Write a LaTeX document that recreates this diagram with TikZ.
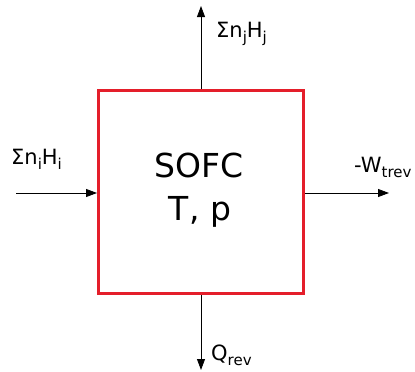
\documentclass[tikz,border=0pt]{standalone}
\usepackage{fontspec}
\setmainfont{DejaVu Sans}
\usetikzlibrary{arrows.meta}
\definecolor{boxred}{RGB}{228,30,42}
\newcommand\sbx[1]{\raisebox{-0.28em}{\fontsize{15}{15}\selectfont #1}}
\tikzset{
  flow/.style={draw=black, line width=0.8pt, -{Triangle[width=8pt,length=11pt]}},
  lbl/.style={font=\fontsize{21}{23}\selectfont, inner sep=0pt, anchor=base west},
  big/.style={font=\fontsize{33}{36}\selectfont, inner sep=0pt, anchor=base},
}
\begin{document}
\begin{tikzpicture}[x=1pt,y=-1pt]
\useasboundingbox (0,0) rectangle (415,372);
\node[draw=boxred, line width=3pt, minimum width=205pt, minimum height=203pt, inner sep=0pt] (sofc) at (201,192) {};
\node[big] (name) at (199,177) {SOFC};
\node[big] (state) at (200,220) {T, p};
\coordinate (topend) at (201,6);
\coordinate (leftstart) at (16,193);
\coordinate (rightend) at (389,193);
\coordinate (botend) at (201,370);
\draw[flow] (sofc.north) -- (topend);
\draw[flow] (leftstart) -- (leftstart -| sofc.west);
\draw[flow] (rightend -| sofc.east) -- (rightend);
\draw[flow] (sofc.south) -- (botend);
\node[lbl] (lj) at (216,37) {Σn\sbx{j}H\sbx{j}};
\node[lbl] (li) at (11,164) {Σn\sbx{i}H\sbx{i}};
\node[lbl] (lw) at (354,172) {-W\sbx{trev}};
\node[lbl] (lq) at (211,360) {Q\sbx{rev}};
\end{tikzpicture}
\end{document}
